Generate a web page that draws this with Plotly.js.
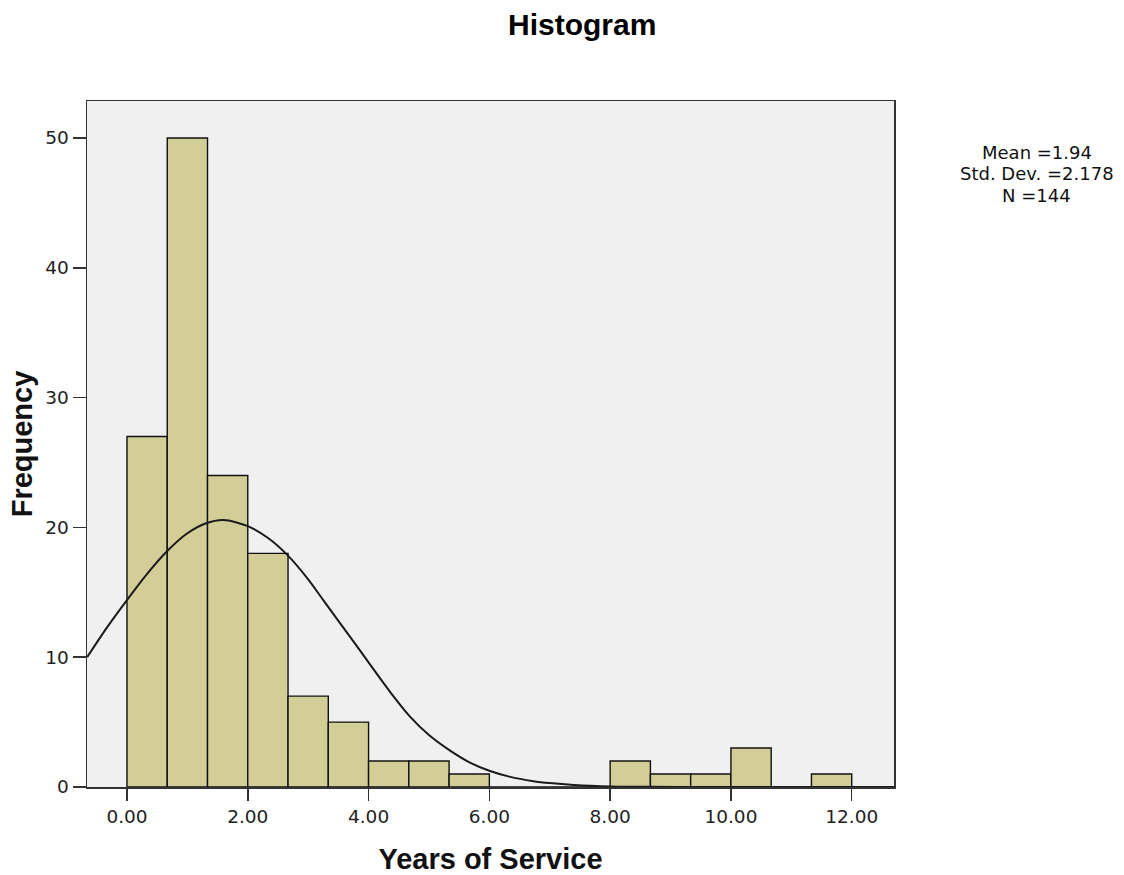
<!DOCTYPE html>
<html>
<head>
<meta charset="utf-8">
<script src="https://cdn.plot.ly/plotly-3.0.1.min.js"></script>
<style>html,body{margin:0;padding:0;background:#fff;}#chart{width:1124px;height:875px;}</style>
</head>
<body>
<div id="chart"></div>
<script>
// Histogram bins (left edges) and frequencies
const binStarts = [0, 0.6667, 1.3333, 2, 2.6667, 3.3333, 4, 4.6667, 5.3333, 6, 6.6667, 7.3333, 8, 8.6667, 9.3333, 10, 10.6667, 11.3333];
const counts    = [27, 50, 24, 18, 7, 5, 2, 2, 1, 0, 0, 0, 2, 1, 1, 3, 0, 1];
const binWidth = 0.6667;

// Normal curve points
const curveX = [-0.66, -0.33, 0, 0.33, 0.67, 1.0, 1.3, 1.6, 2.0, 2.33, 2.65, 3.0, 3.25, 3.5, 3.86, 4.0, 4.41, 4.69, 5.0, 5.35, 5.67, 6.0, 6.33, 6.73, 7.0, 7.4, 8.0, 8.67, 9.5, 10.5, 11.5, 12.7];
const curveY = [10.0, 12.3, 14.4, 16.4, 18.2, 19.55, 20.3, 20.57, 20.1, 19.2, 17.9, 16.0, 14.4, 12.8, 10.5, 9.6, 7.0, 5.4, 4.0, 2.8, 1.9, 1.25, 0.8, 0.45, 0.3, 0.15, 0.04, 0.01, 0, 0, 0, 0];

const xTicks = [0, 2, 4, 6, 8, 10, 12];
const xTickLabels = ['0.00', '2.00', '4.00', '6.00', '8.00', '10.00', '12.00'];
const yTicks = [0, 10, 20, 30, 40, 50];

const stats = ['Mean =1.94', 'Std. Dev. =2.178', 'N =144'];

const FONT = 'Liberation Sans, Arial, sans-serif';
const TFONT = 'DejaVu Sans, sans-serif';

const traces = [
  {
    type: 'bar',
    x: binStarts,
    y: counts,
    width: binWidth,
    offset: 0,
    marker: {color: '#D3CE97', line: {color: '#111111', width: 1.4}},
    hoverinfo: 'x+y'
  },
  {
    type: 'scatter',
    mode: 'lines',
    x: curveX,
    y: curveY,
    line: {color: '#1a1a1a', width: 2, shape: 'spline', smoothing: 0.8},
    hoverinfo: 'skip'
  }
];

const statY = [0.9242, 0.8936, 0.8629];

const layout = {
  width: 1124,
  height: 875,
  margin: {l: 87, r: 230, t: 101, b: 88},
  paper_bgcolor: '#ffffff',
  plot_bgcolor: '#F0F0F0',
  showlegend: false,
  bargap: 0,
  font: {family: FONT, color: '#000'},
  title: {
    text: '<b>Histogram</b>',
    font: {family: FONT, size: 30, color: '#000'},
    x: 0.518, xref: 'container', xanchor: 'center',
    y: 0.9725, yref: 'container', yanchor: 'middle'
  },
  xaxis: {
    range: [-0.662, 12.70],
    tickvals: xTicks,
    ticktext: xTickLabels,
    ticks: 'outside',
    ticklen: 12,
    tickwidth: 1.5,
    tickcolor: '#333',
    showgrid: false,
    zeroline: false,
    showline: true,
    linecolor: '#333',
    linewidth: 1.5,
    mirror: true,
    tickfont: {family: TFONT, size: 18.5, color: '#222'},
    title: {text: '<b>Years of Service</b>', font: {family: FONT, size: 29, color: '#111'}, standoff: 26}
  },
  yaxis: {
    range: [0, 52.85],
    tickvals: yTicks,
    ticks: 'outside',
    ticklen: 13,
    tickwidth: 1.5,
    tickcolor: '#333',
    showgrid: false,
    zeroline: false,
    showline: true,
    linecolor: '#333',
    linewidth: 1.5,
    mirror: true,
    tickfont: {family: TFONT, size: 18.5, color: '#222'},
    title: {text: '<b>Frequency</b>', font: {family: FONT, size: 29, color: '#111'}, standoff: 4}
  },
  annotations: stats.map((s, i) => ({
    text: s,
    xref: 'paper', yref: 'paper',
    x: 1.1771, y: statY[i],
    xanchor: 'center', yanchor: 'middle',
    align: 'center',
    showarrow: false,
    font: {family: TFONT, size: 18, color: '#111'}
  }))
};

Plotly.newPlot('chart', traces, layout, {displayModeBar: false, staticPlot: true});
</script>
</body>
</html>
